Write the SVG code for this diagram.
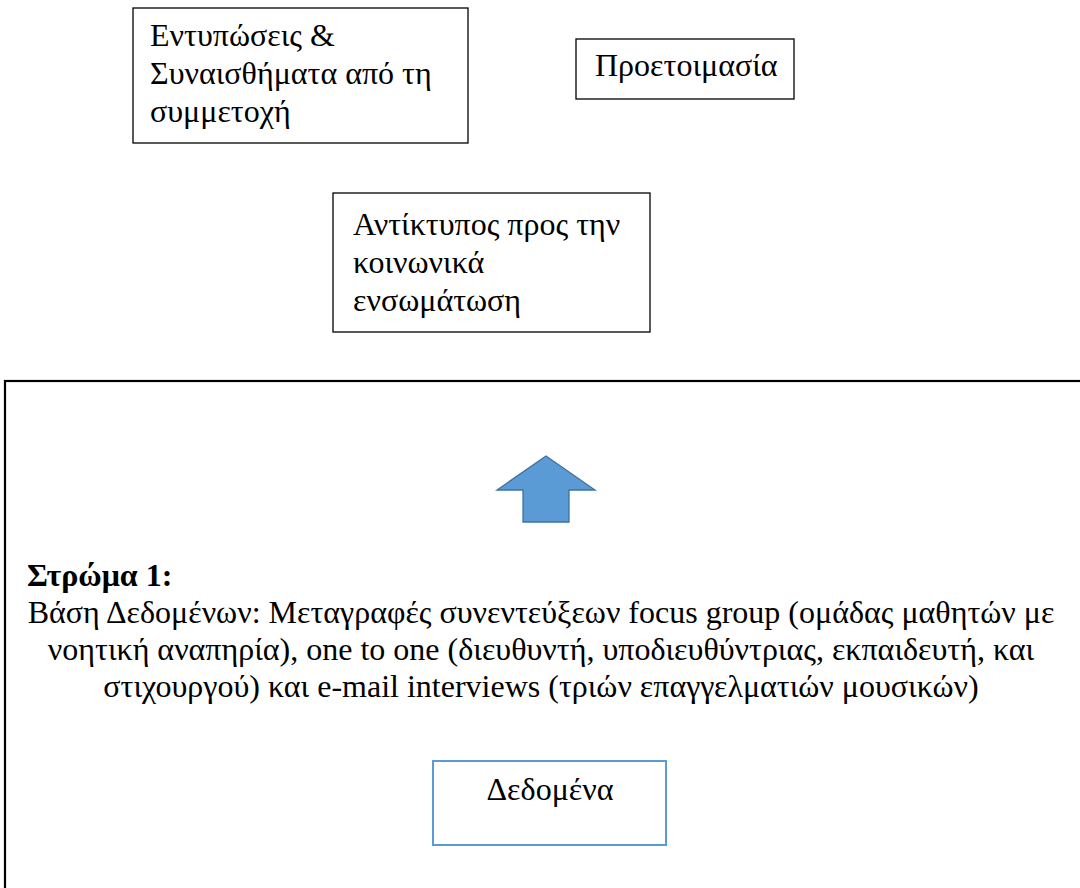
<svg xmlns="http://www.w3.org/2000/svg" width="1080" height="888" viewBox="0 0 1080 888">
<style>
text{font-family:"Liberation Serif","DejaVu Serif",serif;font-size:32px;fill:#000}
.box{fill:#fff;stroke:#000;stroke-width:1.3}
.c{text-anchor:middle}
</style>
<rect width="1080" height="888" fill="#fff"/>
<g id="layer1">
<rect x="5" y="381" width="1090" height="520" fill="#fff" stroke="#000" stroke-width="2.2"/>
<text x="27" y="586" font-weight="bold">Στρώμα 1:</text>
<text class="c" x="541" y="623">Βάση Δεδομένων: Μεταγραφές συνεντεύξεων focus group (ομάδας μαθητών με</text>
<text class="c" x="541" y="660">νοητική αναπηρία), one to one (διευθυντή, υποδιευθύντριας, εκπαιδευτή, και</text>
<text class="c" x="541" y="697">στιχουργού) και e-mail interviews (τριών επαγγελματιών μουσικών)</text>
</g>
<g id="node-impressions">
<rect class="box" x="133" y="8" width="335" height="135"/>
<text x="150" y="46">Εντυπώσεις &amp;</text>
<text x="150" y="84">Συναισθήματα από τη</text>
<text x="150" y="122">συμμετοχή</text>
</g>
<g id="node-preparation">
<rect class="box" x="576" y="39" width="218" height="60"/>
<text x="595" y="76">Προετοιμασία</text>
</g>
<g id="node-impact">
<rect class="box" x="333" y="193" width="317" height="139"/>
<text x="353" y="235">Αντίκτυπος προς την</text>
<text x="353" y="273">κοινωνικά</text>
<text x="353" y="311">ενσωμάτωση</text>
</g>
<g id="node-data">
<rect x="433" y="761" width="233" height="84" fill="#fff" stroke="#5B9BD5" stroke-width="2"/>
<text class="c" x="550" y="800">Δεδομένα</text>
</g>
<g id="connectors">
<polygon points="546,456 595,490 569,490 569,522 523,522 523,490 497,490" fill="#5B9BD5" stroke="#41719C" stroke-width="1.3" stroke-linejoin="miter"/>
</g>
</svg>
